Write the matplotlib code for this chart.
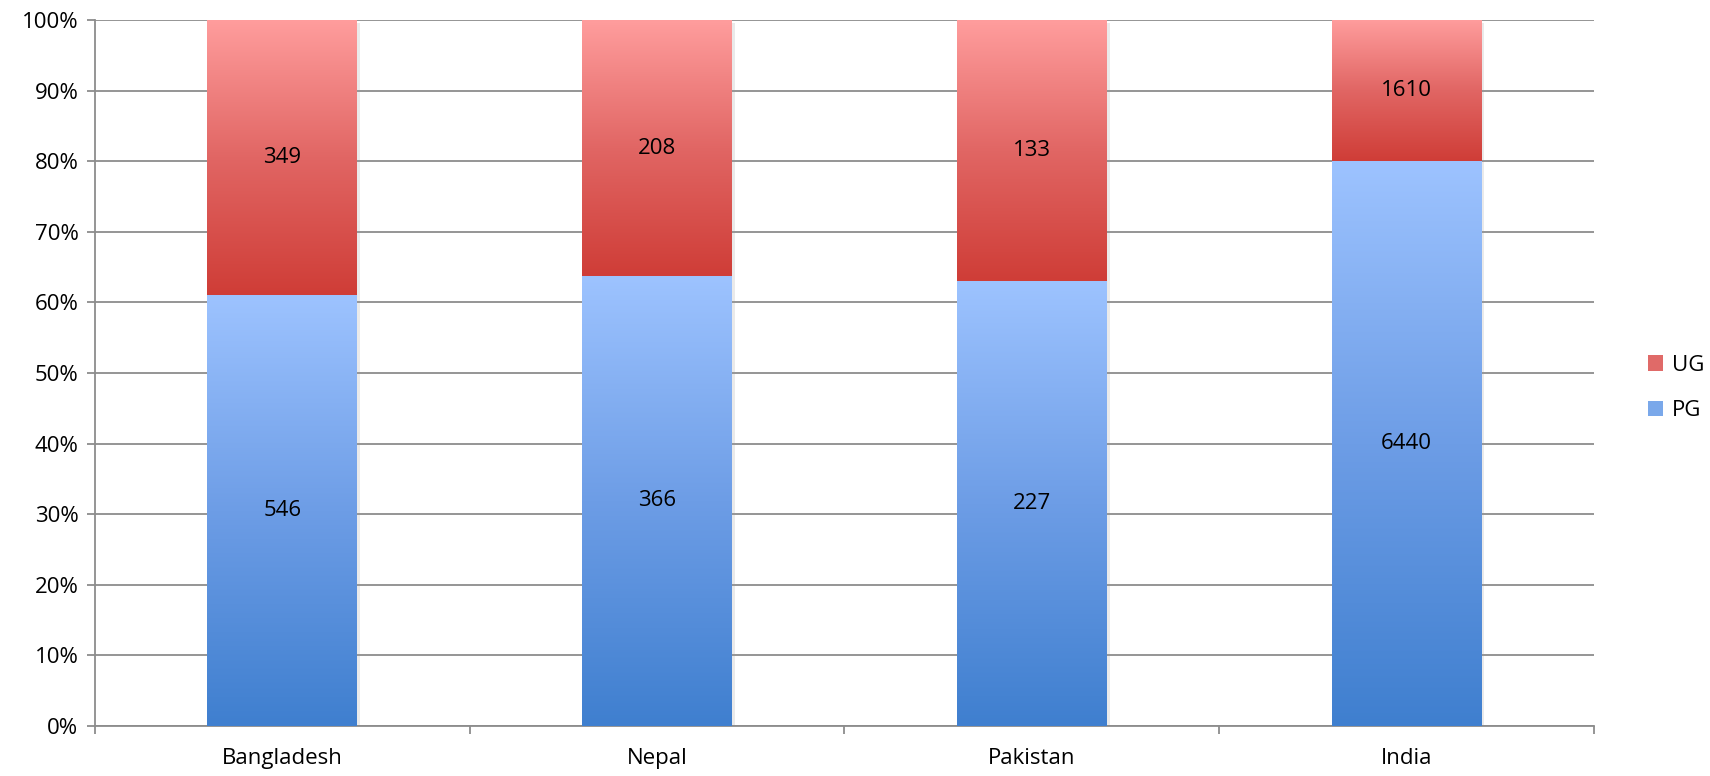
import numpy as np
import matplotlib
matplotlib.use("Agg")
import matplotlib.pyplot as plt
import matplotlib.patheffects as pe
from matplotlib.colors import LinearSegmentedColormap
from matplotlib.patches import Patch

countries = ["Bangladesh", "Nepal", "Pakistan", "India"]
pg = [546, 366, 227, 6440]
ug = [349, 208, 133, 1610]

plt.rcParams['font.family'] = ['Open Sans', 'DejaVu Sans']

pg = np.array(pg, dtype=float)
ug = np.array(ug, dtype=float)
total = pg + ug
pg_pct = pg / total * 100
ug_pct = ug / total * 100

blue_cmap = LinearSegmentedColormap.from_list("pg", ["#3f7fcf", "#6d9de6", "#9dc3ff"])
red_cmap = LinearSegmentedColormap.from_list("ug", ["#cf3d37", "#e16664", "#ff9d9d"])

fig = plt.figure(figsize=(17.1, 7.76), dpi=100)
ax = fig.add_axes([0.0556, 0.0648, 0.8765, 0.909])

x = np.arange(len(countries))
width = 0.40
shadow = [pe.SimplePatchShadow(offset=(2, -2), shadow_rgbFace="#999999", alpha=0.2), pe.Normal()]

b1 = ax.bar(x, pg_pct, width, color="#7aa8ea", zorder=2, path_effects=shadow, label="PG")
b2 = ax.bar(x, ug_pct, width, bottom=pg_pct, color="#e06a68", zorder=2, path_effects=shadow, label="UG")

# fill every segment with a vertical gradient clipped to the bar
grad = np.linspace(0, 1, 256).reshape(-1, 1)
for bars, cmap in ((b1, blue_cmap), (b2, red_cmap)):
    for p in bars:
        x0, y0 = p.get_x(), p.get_y()
        x1, y1 = x0 + p.get_width(), y0 + p.get_height()
        im = ax.imshow(grad, extent=[x0, x1, y0, y1], origin="lower", aspect="auto",
                       cmap=cmap, zorder=3, interpolation="bicubic")
        im.set_clip_path(p)

for i in range(len(countries)):
    ax.text(x[i], pg_pct[i] / 2, f"{int(pg[i])}", ha="center", va="center", fontsize=16, zorder=5)
    ax.text(x[i], pg_pct[i] + ug_pct[i] / 2, f"{int(ug[i])}", ha="center", va="center", fontsize=16, zorder=5)

ax.set_xlim(-0.5, len(countries) - 0.5)
ax.set_ylim(0, 100)
ax.set_yticks(np.arange(0, 101, 10))
ax.set_yticklabels([f"{v}%" for v in range(0, 101, 10)], fontsize=16)
ax.set_xticks(x)
ax.set_xticklabels(countries, fontsize=16)
ax.set_xticks(np.arange(-0.5, len(countries)), minor=True)

ax.yaxis.grid(True, color="#8c8c8c", linewidth=1.3, zorder=0)
ax.set_axisbelow(True)
for s in ("top", "right"):
    ax.spines[s].set_visible(False)
for s in ("left", "bottom"):
    ax.spines[s].set_color("#8c8c8c")
    ax.spines[s].set_linewidth(1.3)

ax.tick_params(axis="y", length=6, color="#8c8c8c", width=1.3, pad=6)
ax.tick_params(axis="x", which="major", length=0, pad=16)
ax.tick_params(axis="x", which="minor", length=6, color="#8c8c8c", width=1.3)

handles = [Patch(facecolor="#e06a68", edgecolor="none"), Patch(facecolor="#7aa8ea", edgecolor="none")]
fig.legend(handles, ["UG", "PG"], loc="center left", bbox_to_anchor=(0.952, 0.50),
           frameon=False, fontsize=16, handlelength=0.7, handleheight=0.7,
           handletextpad=0.4, labelspacing=1.1)

fig.savefig("out.png", dpi=100, facecolor="white")
